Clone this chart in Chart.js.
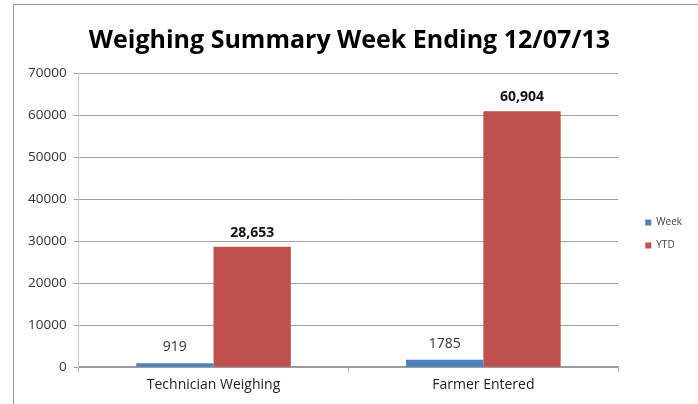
<!DOCTYPE html>
<html>
<head>
<meta charset="utf-8">
<script src="https://cdn.jsdelivr.net/npm/chart.js@4/dist/chart.umd.min.js"></script>
<style>
html,body{margin:0;padding:0;background:#fff;overflow:hidden;}
#frame{position:absolute;left:13px;top:4px;width:690px;height:420px;border:1px solid #999;box-sizing:border-box;}
#wrap{position:absolute;left:0;top:0;width:698px;height:404px;}
</style>
</head>
<body>
<div id="frame"></div>
<div id="wrap"><canvas id="c" width="698" height="404"></canvas></div>
<script>
const categories = ["Technician Weighing", "Farmer Entered"];
const weekValues = [919, 1785];
const ytdValues = [28653, 60904];
const weekLabels = ["919", "1785"];
const ytdLabels = ["28,653", "60,904"];
const yTicks = [0, 10000, 20000, 30000, 40000, 50000, 60000, 70000];

const FONT = '"Open Sans", sans-serif';

const labelPlugin = {
  id: 'barLabels',
  afterDatasetsDraw(chart) {
    const ctx = chart.ctx;
    ctx.save();
    ctx.textAlign = 'center';
    ctx.textBaseline = 'alphabetic';
    chart.data.datasets.forEach((ds, di) => {
      const meta = chart.getDatasetMeta(di);
      const labels = di === 0 ? weekLabels : ytdLabels;
      ctx.fillStyle = di === 0 ? '#333' : '#111';
      ctx.font = di === 0 ? '14px ' + FONT : 'bold 14px ' + FONT;
      meta.data.forEach((bar, i) => {
        ctx.fillText(labels[i], bar.x, bar.y - (di === 0 ? 12 : 10));
      });
    });
    ctx.restore();
  }
};

const legendShift = {
  id: 'legendShift',
  afterLayout(chart) {
    const lg = chart.legend;
    if (lg && !lg._shiftWrapped) {
      const orig = lg.draw;
      lg.draw = function () {
        const ctx = this.ctx;
        ctx.save();
        ctx.translate(14, 31);
        orig.apply(this, arguments);
        ctx.restore();
      };
      lg._shiftWrapped = true;
    }
  }
};

new Chart(document.getElementById('c'), {
  type: 'bar',
  data: {
    labels: categories,
    datasets: [
      { label: 'Week', data: weekValues, backgroundColor: '#4F81BD', borderWidth: 0 },
      { label: 'YTD', data: ytdValues, backgroundColor: '#C0504D', borderWidth: 0 }
    ]
  },
  options: {
    responsive: false,
    animation: false,
    layout: { padding: { left: 21, right: 20, top: 9, bottom: 7 } },
    plugins: {
      title: {
        display: true,
        text: 'Weighing Summary Week Ending 12/07/13',
        color: '#000',
        font: { family: FONT, size: 25, weight: 'bold' },
        padding: { top: 17, bottom: 17 }
      },
      legend: {
        position: 'right',
        labels: {
          boxWidth: 6, boxHeight: 6, color: '#444',
          font: { family: FONT, size: 10 },
          padding: 13
        }
      },
      tooltip: { enabled: false }
    },
    datasets: { bar: { categoryPercentage: 0.573, barPercentage: 1.0 } },
    scales: {
      x: {
        grid: { display: true, drawOnChartArea: false, offset: true, color: '#aaa', tickLength: 5 },
        border: { color: '#999', width: 1.5 },
        ticks: { color: '#222', font: { family: FONT, size: 14 }, padding: 4 }
      },
      y: {
        min: 0, max: 70000,
        afterBuildTicks: (axis) => { axis.ticks = yTicks.map(v => ({ value: v })); },
        grid: { color: '#a0a0a0', tickLength: 5 },
        border: { color: '#ccc' },
        ticks: { color: '#333', font: { family: FONT, size: 13.5 }, padding: 7, callback: v => String(v) }
      }
    }
  },
  plugins: [labelPlugin, legendShift]
});
</script>
</body>
</html>
